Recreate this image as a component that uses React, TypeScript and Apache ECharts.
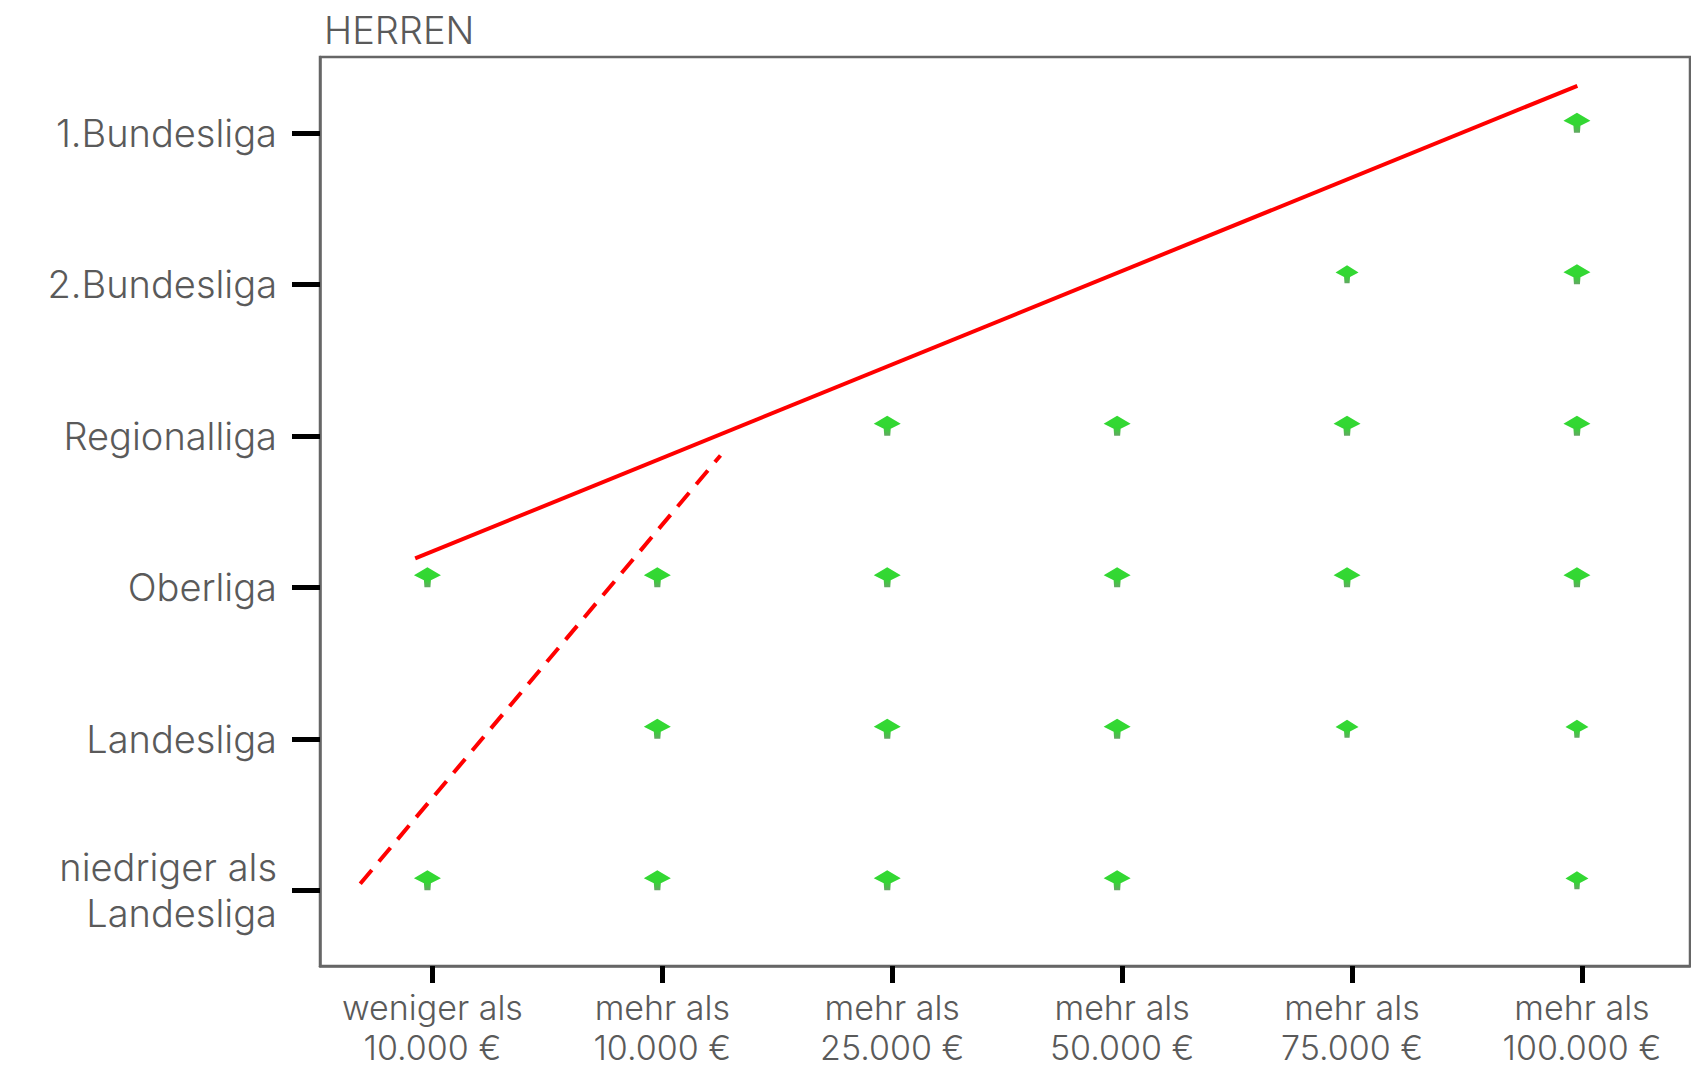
import React, { useEffect, useRef } from "react";
import * as echarts from "echarts";

const leagues = ["niedriger als\nLandesliga", "Landesliga", "Oberliga", "Regionalliga", "2.Bundesliga", "1.Bundesliga"];
const budgets = ["weniger als\n10.000 €", "mehr als\n10.000 €", "mehr als\n25.000 €", "mehr als\n50.000 €", "mehr als\n75.000 €", "mehr als\n100.000 €"];
const tickValues = [0, 1, 2, 3, 4, 5];

// [budget index, league index, marker size class (1 = large, 0 = small)]
const points: [number, number, number][] = [
  [0, 2, 1], [0, 0, 1],
  [1, 2, 1], [1, 1, 1], [1, 0, 1],
  [2, 3, 1], [2, 2, 1], [2, 1, 1], [2, 0, 1],
  [3, 3, 1], [3, 2, 1], [3, 1, 1], [3, 0, 1],
  [4, 4, 0], [4, 3, 1], [4, 2, 1], [4, 1, 0],
  [5, 5, 1], [5, 4, 1], [5, 3, 1], [5, 2, 1], [5, 1, 0], [5, 0, 0],
];

const trendSolid: [number, number][] = [[-0.075, 2.19], [4.98, 5.31]];
const trendDashed: [number, number][] = [[-0.314, 0.043], [1.253, 2.87]];

const FONT = "Inter, 'Open Sans', sans-serif";
const GREY = "#5a5a5a";
const MARKER = "path://M13.5,0 L27,8 L17,13 L16.5,20 L10.5,20 L10,13 L0,8 Z";

export default function App() {
  const ref = useRef<HTMLDivElement>(null);
  useEffect(() => {
    document.body.style.margin = "0";
    const chart = echarts.init(ref.current!, null, { renderer: "svg" });
    const greenFill = new echarts.graphic.LinearGradient(0, 0, 0, 1, [
      { offset: 0, color: "#00d000" },
      { offset: 0.6, color: "#00cc00" },
      { offset: 1, color: "#3f8f3f" },
    ]);
    chart.setOption({
      animation: false,
      backgroundColor: "#ffffff",
      title: {
        text: "HERREN",
        left: 319,
        top: 6,
        textStyle: { fontFamily: FONT, fontSize: 38, fontWeight: 300, color: GREY },
      },
      grid: {
        left: 320,
        right: 1,
        top: 57,
        bottom: 98,
        show: true,
        borderColor: "#666666",
        borderWidth: 2.5,
        containLabel: false,
      },
      xAxis: {
        type: "value",
        min: -0.489,
        max: 5.47,
        splitLine: { show: false },
        axisLine: { show: true, onZero: false, lineStyle: { color: "#666666", width: 2.5 } },
        axisTick: {
          show: true,
          customValues: tickValues,
          length: 17,
          lineStyle: { color: "#000000", width: 5 },
        },
        axisLabel: {
          customValues: tickValues,
          formatter: (v: number) => budgets[Math.round(v)] ?? "",
          margin: 21,
          fontFamily: FONT,
          fontSize: 34,
          fontWeight: 300,
          lineHeight: 40,
          color: GREY,
          align: "center",
        },
      },
      yAxis: {
        type: "value",
        min: -0.5,
        max: 5.5,
        splitLine: { show: false },
        axisLine: { show: true, onZero: false, lineStyle: { color: "#666666", width: 2.5 } },
        axisTick: {
          show: true,
          customValues: tickValues,
          length: 28,
          lineStyle: { color: "#000000", width: 5 },
        },
        axisLabel: {
          customValues: tickValues,
          formatter: (v: number) => leagues[Math.round(v)] ?? "",
          margin: 43,
          fontFamily: FONT,
          fontSize: 38,
          fontWeight: 300,
          lineHeight: 46,
          color: GREY,
          align: "right",
        },
      },
      series: [
        {
          type: "scatter",
          data: points.map((p) => [p[0], p[1], p[2]]),
          symbol: MARKER,
          symbolSize: (d: number[]) => (d[2] ? [27, 20] : [23, 18]),
          symbolOffset: [-5, -10],
          itemStyle: { color: greenFill },
          z: 3,
        },
        {
          type: "line",
          data: trendSolid,
          showSymbol: false,
          symbol: "none",
          lineStyle: { color: "#ff0000", width: 4 },
          z: 4,
        },
        {
          type: "line",
          data: trendDashed,
          showSymbol: false,
          symbol: "none",
          lineStyle: { color: "#ff0000", width: 4, type: [18, 11] },
          z: 4,
        },
      ],
    });
    return () => chart.dispose();
  }, []);
  return <div ref={ref} style={{ width: 1691, height: 1067 }} />;
}
